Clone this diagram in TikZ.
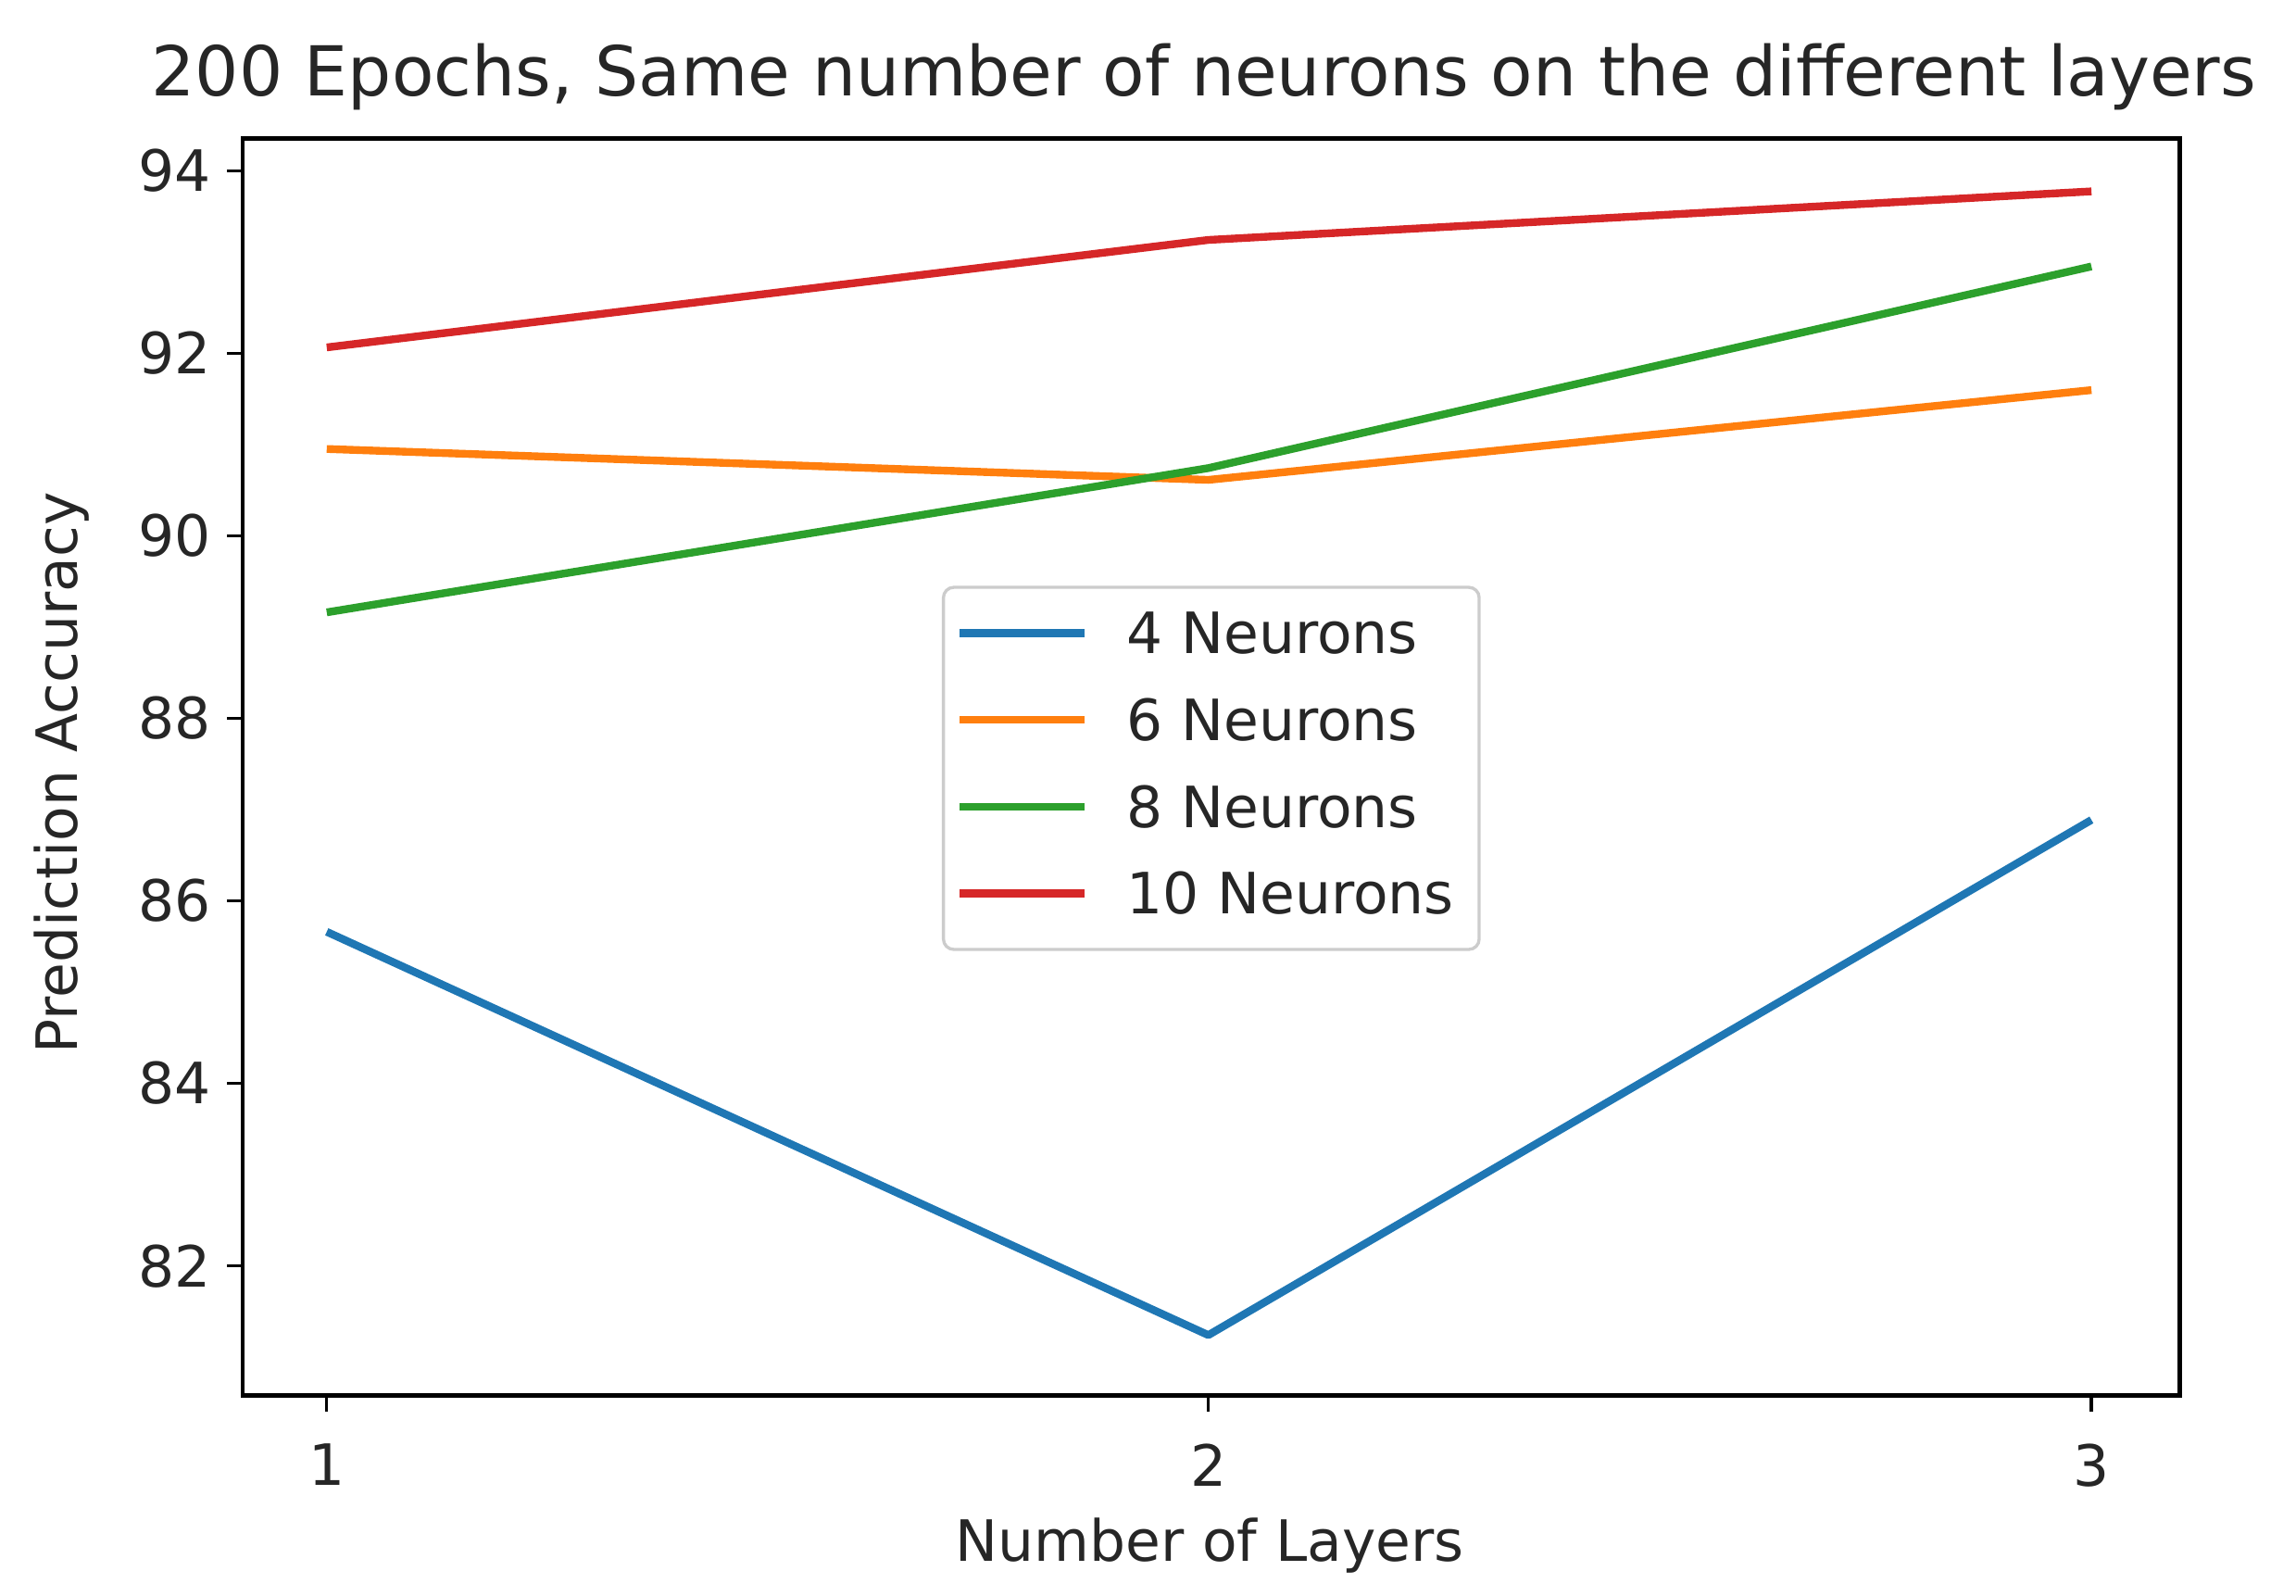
\documentclass[tikz,border=0pt]{standalone}
\usepackage{fontspec}
\setmainfont{DejaVu Sans}
\definecolor{cb}{HTML}{1F77B4}
\definecolor{co}{HTML}{FF7F0E}
\definecolor{cg}{HTML}{2CA02C}
\definecolor{cr}{HTML}{D62728}
\begin{document}
\begin{tikzpicture}[x=0.01cm,y=-0.01cm,
  ser/.style={line width=1.5pt,line join=round},
  tick/.style={line width=0.6pt},
  lab/.style={font=\fontsize{11pt}{12pt}\selectfont,text=black!85,inner sep=0pt}]
\useasboundingbox (0,0) rectangle (1560,1084);
% series
\draw[ser,cb] (222,633) -- (821,907) -- (1421,557);
\draw[ser,co] (222,305) -- (821,326) -- (1421,265);
\draw[ser,cg] (222,416) -- (821,318) -- (1421,181);
\draw[ser,cr] (222,236) -- (821,163) -- (1421,130);
% axes frame
\draw[line width=0.8pt] (165,94) rectangle (1481,948);
% y ticks
\foreach \v/\yy in {94/116,92/240,90/364,88/488,86/612,84/736,82/860}{
  \draw[tick] (165,\yy) -- (154,\yy);
  \node[lab,anchor=east] (yt\v) at (144,\yy) {\v};
}
\foreach \v/\xx in {1/222,2/821,3/1421}{
  \draw[tick] (\xx,948) -- (\xx,959);
  \node[lab,anchor=north] (xt\v) at (\xx,980) {\v};
}
\node[lab] (xl) at (822,1050) {Number of Layers};
\node[lab,rotate=90] (yl) at (42,525) {Prediction Accuracy};
\node[inner sep=0pt,font=\fontsize{13.3pt}{14pt}\selectfont,text=black!85] (ti) at (818,52) {200 Epochs, Same number of neurons on the different layers};
% legend
\draw[black!20,fill=white,rounded corners=2pt,line width=0.6pt] (641,399) rectangle (1005,645);
\foreach \c/\t/\yy [count=\i] in {cb/4 Neurons/430,co/6 Neurons/489,cg/8 Neurons/548,cr/10 Neurons/607}{
  \draw[ser,\c] (652,\yy) -- (737,\yy);
  \node[lab,anchor=west] (lg\i) at (765,\yy) {\t};
}
\end{tikzpicture}
\end{document}
